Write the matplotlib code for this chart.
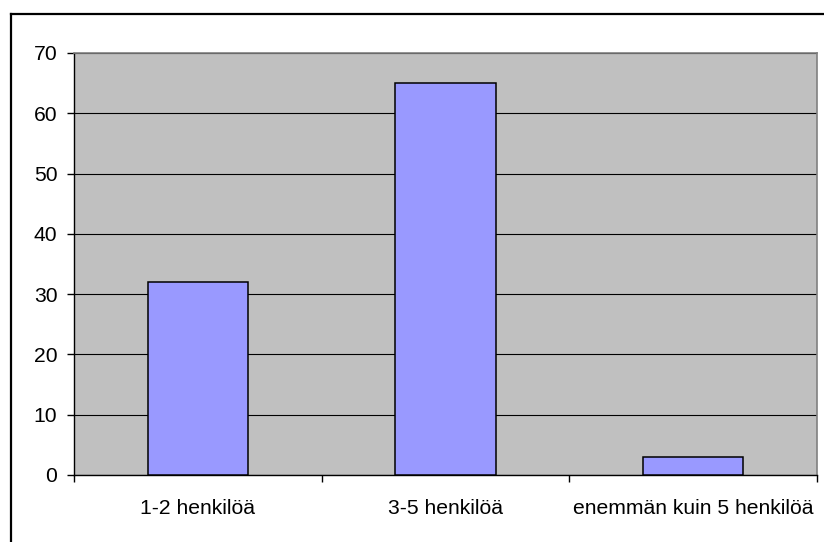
import matplotlib
matplotlib.use("Agg")
from matplotlib import pyplot as plt
from matplotlib.lines import Line2D
import numpy as np

plt.rcParams['font.family'] = ['Liberation Sans', 'DejaVu Sans']

categories = ["1-2 henkilöä", "3-5 henkilöä", "enemmän kuin 5 henkilöä"]
values = [32, 65, 3]
yticks = [0, 10, 20, 30, 40, 50, 60, 70]

W, H = 824, 542
fig = plt.figure(figsize=(W / 100, H / 100), dpi=100)
fig.patch.set_facecolor("white")

# plot area in pixel coordinates
left, right, top, bottom = 74, 817, 53, 475
ax = fig.add_axes([left / W, (H - bottom) / H, (right - left) / W, (bottom - top) / H])
ax.set_facecolor("#C0C0C0")

x = np.arange(len(categories))
ax.bar(x, values, width=0.404, color="#9999FF", edgecolor="black", linewidth=1.1, zorder=3)

ax.set_xlim(-0.5, len(categories) - 0.5)
ax.set_ylim(0, 70)
ax.set_yticks(yticks)
ax.yaxis.grid(True, color="black", linewidth=0.8, zorder=1)
ax.set_axisbelow(True)

# category labels centred, ticks on category boundaries
ax.set_xticks(x)
ax.set_xticklabels(categories, fontsize=15.2)
ax.tick_params(axis="x", length=0, pad=17)
ax.set_xticks(np.arange(len(categories) + 1) - 0.5, minor=True)
ax.tick_params(axis="x", which="minor", length=5, width=1, color="black", direction="out")
ax.tick_params(axis="y", labelsize=15.2, length=5, width=1, pad=7, direction="out")

for s in ["top", "right"]:
    ax.spines[s].set_color("#808080")
    ax.spines[s].set_linewidth(1.2)
for s in ["left", "bottom"]:
    ax.spines[s].set_color("black")
    ax.spines[s].set_linewidth(1.0)

# outer chart border (left and top visible)
fig.add_artist(Line2D([10.5 / W, 10.5 / W], [0, 1 - 13.5 / H], color="black", linewidth=1.6,
                      transform=fig.transFigure))
fig.add_artist(Line2D([10.5 / W, 1], [1 - 13.5 / H, 1 - 13.5 / H], color="black", linewidth=1.6,
                      transform=fig.transFigure))

fig.savefig("out.png", dpi=100)
